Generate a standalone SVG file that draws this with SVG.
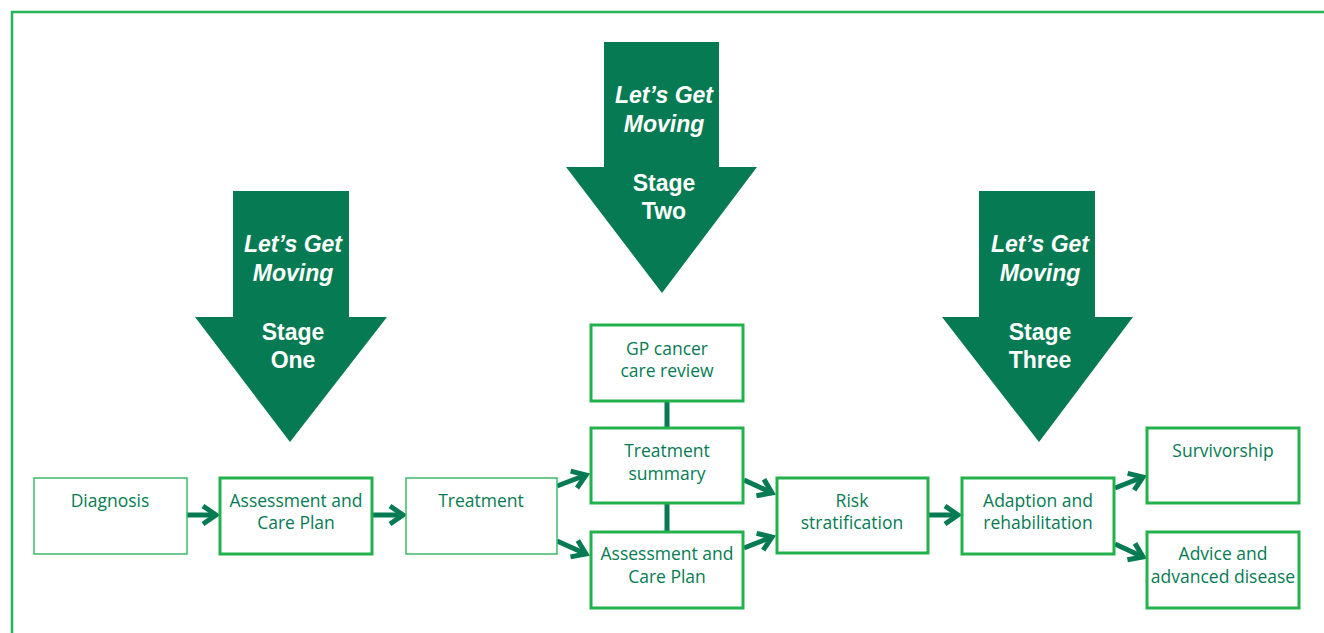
<svg xmlns="http://www.w3.org/2000/svg" width="1324" height="633" viewBox="0 0 1324 633">
<style>
.frame{fill:none;stroke:#27b35a;stroke-width:2.5}
.big{fill:#067b53}
.bt{fill:#fff;font-family:"Liberation Sans",Arial,sans-serif;font-weight:bold;font-size:23px;text-anchor:middle}
.it{font-style:italic}
.box{fill:#fff;stroke:#22b14c;stroke-width:3}
.thin{fill:#fff;stroke:#3dbb6a;stroke-width:1.5}
.t{fill:#067b53;font-family:"Open Sans","Liberation Sans",sans-serif;font-size:17.5px;text-anchor:middle}
.c{stroke:#067b53;stroke-width:5;fill:none}
</style>
<defs>
<marker id="ah" markerUnits="userSpaceOnUse" markerWidth="24" markerHeight="26" refX="18" refY="13" orient="auto">
<path d="M5,4 L18,13 L5,22" fill="none" stroke="#067b53" stroke-width="5"/>
</marker>
</defs>
<rect class="frame" x="12" y="12" width="1330" height="640"/>

<g id="arrow-stage-one">
<polygon class="big" points="233,191 349,191 349,317 387,317 290,442 195,317 233,317"/>
<text class="bt it" x="293" y="252">Let’s Get</text>
<text class="bt it" x="293" y="281">Moving</text>
<text class="bt" x="293" y="340">Stage</text>
<text class="bt" x="293" y="368">One</text>
</g>
<g id="arrow-stage-two">
<polygon class="big" points="604,42 719,42 719,167 757,167 662,293 566,167 604,167"/>
<text class="bt it" x="664" y="103">Let’s Get</text>
<text class="bt it" x="664" y="132">Moving</text>
<text class="bt" x="664" y="191">Stage</text>
<text class="bt" x="664" y="219">Two</text>
</g>
<g id="arrow-stage-three">
<polygon class="big" points="979,191 1095,191 1095,317 1133,317 1039,442 942,317 979,317"/>
<text class="bt it" x="1040" y="252">Let’s Get</text>
<text class="bt it" x="1040" y="281">Moving</text>
<text class="bt" x="1040" y="340">Stage</text>
<text class="bt" x="1040" y="368">Three</text>
</g>

<g id="connectors">
<line class="c" x1="187" y1="515" x2="216" y2="515" marker-end="url(#ah)"/>
<line class="c" x1="372" y1="515" x2="403" y2="515" marker-end="url(#ah)"/>
<line class="c" x1="557" y1="486" x2="586" y2="475" marker-end="url(#ah)"/>
<line class="c" x1="557" y1="541" x2="586" y2="554" marker-end="url(#ah)"/>
<line class="c" x1="667" y1="401" x2="667" y2="427"/>
<line class="c" x1="667" y1="503" x2="667" y2="532"/>
<line class="c" x1="744" y1="480" x2="772" y2="493" marker-end="url(#ah)"/>
<line class="c" x1="744" y1="548" x2="772" y2="537" marker-end="url(#ah)"/>
<line class="c" x1="928" y1="515" x2="958" y2="515" marker-end="url(#ah)"/>
<line class="c" x1="1115" y1="488" x2="1143" y2="477" marker-end="url(#ah)"/>
<line class="c" x1="1115" y1="544" x2="1143" y2="557" marker-end="url(#ah)"/>
</g>

<g id="diagnosis">
<rect class="thin" x="34" y="478" width="153" height="76"/>
<text class="t" x="110" y="507">Diagnosis</text>
</g>
<g id="assessment-1">
<rect class="box" x="220" y="478" width="152" height="76"/>
<text class="t" x="296" y="507">Assessment and</text>
<text class="t" x="296" y="529">Care Plan</text>
</g>
<g id="treatment">
<rect class="thin" x="406" y="478" width="151" height="76"/>
<text class="t" x="481" y="507">Treatment</text>
</g>
<g id="gp-review">
<rect class="box" x="591" y="325" width="152" height="76"/>
<text class="t" x="667" y="355">GP cancer</text>
<text class="t" x="667" y="377">care review</text>
</g>
<g id="treatment-summary">
<rect class="box" x="591" y="428" width="152" height="75"/>
<text class="t" x="667" y="457">Treatment</text>
<text class="t" x="667" y="480">summary</text>
</g>
<g id="assessment-2">
<rect class="box" x="591" y="532" width="152" height="76"/>
<text class="t" x="667" y="560">Assessment and</text>
<text class="t" x="667" y="583">Care Plan</text>
</g>
<g id="risk">
<rect class="box" x="777" y="478" width="151" height="75"/>
<text class="t" x="852" y="507">Risk</text>
<text class="t" x="852" y="529">stratification</text>
</g>
<g id="adaption">
<rect class="box" x="962" y="478" width="152" height="76"/>
<text class="t" x="1038" y="507">Adaption and</text>
<text class="t" x="1038" y="529">rehabilitation</text>
</g>
<g id="survivorship">
<rect class="box" x="1147" y="428" width="152" height="75"/>
<text class="t" x="1223" y="457">Survivorship</text>
</g>
<g id="advice">
<rect class="box" x="1147" y="532" width="152" height="76"/>
<text class="t" x="1223" y="560">Advice and</text>
<text class="t" x="1223" y="583">advanced disease</text>
</g>
</svg>
